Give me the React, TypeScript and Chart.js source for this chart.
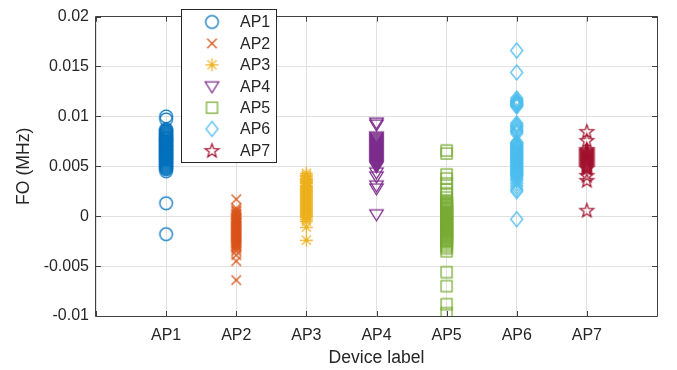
import React, { useEffect, useRef } from "react";
import { Chart, registerables } from "chart.js";

Chart.register(...registerables);

const categories = ["AP1", "AP2", "AP3", "AP4", "AP5", "AP6", "AP7"];
const yTickLabels = ["-0.01", "-0.005", "0", "0.005", "0.01", "0.015", "0.02"];

const ap1 = [0.0100, 0.0097, 0.0087, 0.0086, 0.0085, 0.0084, 0.0083, 0.0082, 0.0081, 0.0080, 0.0079, 0.0078, 0.0078, 0.0077, 0.0076, 0.0075, 0.0075, 0.0074, 0.0073, 0.0072, 0.0071, 0.0070, 0.0070, 0.0069, 0.0068, 0.0067, 0.0066, 0.0066, 0.0065, 0.0064, 0.0063, 0.0062, 0.0062, 0.0061, 0.0060, 0.0059, 0.0058, 0.0058, 0.0057, 0.0056, 0.0055, 0.0054, 0.0053, 0.0052, 0.0051, 0.0050, 0.0049, 0.0048, 0.0047, 0.0045, 0.0013, -0.0018];
const ap2 = [0.0017, 0.0008, 0.0006, 0.0005, 0.0003, 0.0002, 0.0001, -0.0001, -0.0002, -0.0003, -0.0004, -0.0005, -0.0006, -0.0007, -0.0008, -0.0009, -0.0010, -0.0011, -0.0012, -0.0013, -0.0014, -0.0015, -0.0016, -0.0017, -0.0018, -0.0019, -0.0020, -0.0021, -0.0022, -0.0023, -0.0024, -0.0025, -0.0026, -0.0027, -0.0028, -0.0029, -0.0030, -0.0031, -0.0033, -0.0035, -0.0039, -0.0045, -0.0064];
const ap3 = [0.0043, 0.0041, 0.0040, 0.0038, 0.0037, 0.0036, 0.0035, 0.0034, 0.0033, 0.0031, 0.0030, 0.0029, 0.0028, 0.0027, 0.0026, 0.0025, 0.0024, 0.0023, 0.0022, 0.0021, 0.0020, 0.0019, 0.0018, 0.0017, 0.0016, 0.0015, 0.0014, 0.0013, 0.0012, 0.0011, 0.0010, 0.0009, 0.0008, 0.0007, 0.0006, 0.0005, 0.0004, 0.0003, 0.0002, 0.0001, 0.0000, -0.0001, -0.0003, -0.0005, -0.0011, -0.0024];
const ap4 = [0.0094, 0.0092, 0.0080, 0.0079, 0.0078, 0.0077, 0.0076, 0.0075, 0.0074, 0.0073, 0.0072, 0.0071, 0.0070, 0.0069, 0.0068, 0.0067, 0.0066, 0.0065, 0.0064, 0.0063, 0.0062, 0.0061, 0.0060, 0.0059, 0.0058, 0.0057, 0.0056, 0.0055, 0.0054, 0.0053, 0.0052, 0.0051, 0.0050, 0.0044, 0.0040, 0.0031, 0.0028, 0.0002];
const ap5 = [0.0066, 0.0063, 0.0042, 0.0038, 0.0033, 0.0027, 0.0023, 0.0019, 0.0015, 0.0014, 0.0013, 0.0012, 0.0011, 0.0010, 0.0009, 0.0008, 0.0007, 0.0006, 0.0005, 0.0004, 0.0003, 0.0002, 0.0001, 0.0000, -0.0001, -0.0002, -0.0003, -0.0004, -0.0005, -0.0006, -0.0007, -0.0008, -0.0009, -0.0010, -0.0011, -0.0012, -0.0013, -0.0014, -0.0015, -0.0016, -0.0017, -0.0018, -0.0019, -0.0020, -0.0021, -0.0022, -0.0023, -0.0024, -0.0025, -0.0026, -0.0028, -0.0030, -0.0032, -0.0035, -0.0056, -0.0070, -0.0088, -0.0097];
const ap6 = [0.0166, 0.0144, 0.0118, 0.0116, 0.0115, 0.0114, 0.0113, 0.0112, 0.0111, 0.0110, 0.0093, 0.0091, 0.0090, 0.0088, 0.0086, 0.0085, 0.0083, 0.0074, 0.0073, 0.0072, 0.0071, 0.0070, 0.0069, 0.0068, 0.0067, 0.0066, 0.0065, 0.0064, 0.0063, 0.0062, 0.0061, 0.0060, 0.0059, 0.0058, 0.0057, 0.0056, 0.0055, 0.0054, 0.0053, 0.0052, 0.0051, 0.0050, 0.0049, 0.0048, 0.0047, 0.0046, 0.0045, 0.0044, 0.0043, 0.0042, 0.0041, 0.0040, 0.0038, 0.0036, 0.0033, 0.0030, 0.0027, 0.0025, -0.0003];
const ap7 = [0.0085, 0.0076, 0.0067, 0.0066, 0.0065, 0.0064, 0.0063, 0.0062, 0.0061, 0.0060, 0.0059, 0.0058, 0.0057, 0.0056, 0.0055, 0.0054, 0.0053, 0.0052, 0.0051, 0.0050, 0.0049, 0.0048, 0.0041, 0.0036, 0.0006];

const seriesValues = [ap1, ap2, ap3, ap4, ap5, ap6, ap7];
const seriesColors = ["#0072BD", "#D95319", "#EDB120", "#7E2F8E", "#77AC30", "#4DBEEE", "#A2142F"];
const seriesMarkers = ["circle", "x", "asterisk", "tridown", "square", "diamond", "pentagram"];

const FONT = "'Liberation Sans', Arial, Helvetica, sans-serif";
const TEXT = "#262626";

function makeMarker(kind: string, color: string): HTMLCanvasElement {
  const S = 19;
  const c = document.createElement("canvas");
  c.width = S;
  c.height = S;
  const g = c.getContext("2d")!;
  const m = S / 2;
  g.strokeStyle = color;
  g.lineWidth = 1.25;
  g.beginPath();
  if (kind === "circle") {
    g.arc(m, m, 6.3, 0, Math.PI * 2);
  } else if (kind === "x") {
    const d = 4.8;
    g.moveTo(m - d, m - d); g.lineTo(m + d, m + d);
    g.moveTo(m + d, m - d); g.lineTo(m - d, m + d);
  } else if (kind === "asterisk") {
    const d = 6.5, e = 4.6;
    g.moveTo(m - d, m); g.lineTo(m + d, m);
    g.moveTo(m, m - d); g.lineTo(m, m + d);
    g.moveTo(m - e, m - e); g.lineTo(m + e, m + e);
    g.moveTo(m + e, m - e); g.lineTo(m - e, m + e);
  } else if (kind === "tridown") {
    g.moveTo(m - 6.8, m - 4.5); g.lineTo(m + 6.8, m - 4.5); g.lineTo(m, m + 6.5); g.closePath();
  } else if (kind === "square") {
    g.rect(m - 5.5, m - 5.5, 11, 11);
  } else if (kind === "diamond") {
    g.moveTo(m, m - 7.5); g.lineTo(m + 6, m); g.lineTo(m, m + 7.5); g.lineTo(m - 6, m); g.closePath();
  } else if (kind === "pentagram") {
    const R = 7.2, r = 2.9;
    for (let i = 0; i < 10; i++) {
      const a = -Math.PI / 2 + (i * Math.PI) / 5;
      const rr = i % 2 === 0 ? R : r;
      const px = m + rr * Math.cos(a);
      const py = m + 0.6 + rr * Math.sin(a);
      if (i === 0) g.moveTo(px, py); else g.lineTo(px, py);
    }
    g.closePath();
  }
  g.stroke();
  return c;
}

export default function App() {
  const ref = useRef<HTMLCanvasElement | null>(null);

  useEffect(() => {
    const canvas = ref.current!;
    const markers = seriesValues.map((_, i) => makeMarker(seriesMarkers[i], seriesColors[i]));

    const datasets = seriesValues.map((vals, i) => ({
      label: categories[i],
      data: vals.map((v) => ({ x: i + 1, y: v })),
      pointStyle: markers[i] as any,
      pointRadius: 6,
      showLine: false,
    }));

    const boxPlugin = {
      id: "boxPlugin",
      afterDatasetsDraw(chart: any) {
        const { ctx, chartArea } = chart;
        const { left, right, top, bottom } = chartArea;
        const xs = chart.scales.x;
        const ys = chart.scales.y;
        ctx.save();
        ctx.strokeStyle = "#404040";
        ctx.lineWidth = 1;
        ctx.beginPath();
        ctx.rect(Math.round(left) - 0.5, Math.round(top) - 0.5, Math.round(right - left) + 1, Math.round(bottom - top) + 1);
        const tl = 5;
        for (let i = 0; i <= 8; i++) {
          const px = Math.round(xs.getPixelForValue(i)) + 0.5;
          ctx.moveTo(px, bottom); ctx.lineTo(px, bottom - tl);
          ctx.moveTo(px, top); ctx.lineTo(px, top + tl);
        }
        for (let k = 0; k < yTickLabels.length; k++) {
          const v = -0.01 + k * 0.005;
          const py = Math.round(ys.getPixelForValue(v)) + 0.5;
          ctx.moveTo(left, py); ctx.lineTo(left + tl, py);
          ctx.moveTo(right, py); ctx.lineTo(right - tl, py);
        }
        ctx.stroke();
        ctx.restore();
      },
      afterDraw(chart: any) {
        const { ctx } = chart;
        const bx = 181.5, by = 9.5, bw = 95, bh = 153;
        ctx.save();
        ctx.fillStyle = "#ffffff";
        ctx.fillRect(bx, by, bw, bh);
        ctx.strokeStyle = "#262626";
        ctx.lineWidth = 1;
        ctx.strokeRect(bx, by, bw, bh);
        ctx.font = `16px ${FONT}`;
        ctx.fillStyle = TEXT;
        ctx.textBaseline = "middle";
        ctx.textAlign = "left";
        for (let i = 0; i < categories.length; i++) {
          const cy = 22 + i * 21.4;
          const mk = markers[i];
          ctx.drawImage(mk, 212 - mk.width / 2, cy - mk.height / 2);
          ctx.fillText(categories[i], 240, cy + 1);
        }
        ctx.restore();
      },
    };

    const chart = new Chart(canvas, {
      type: "scatter",
      data: { datasets },
      options: {
        animation: false,
        responsive: false,
        maintainAspectRatio: false,
        layout: { padding: { top: 9, right: 20, bottom: 0, left: 0 } },
        plugins: { legend: { display: false }, tooltip: { enabled: false } },
        scales: {
          x: {
            type: "linear",
            min: 0,
            max: 8,
            afterFit: (s: any) => { s.height = 54; },
            afterBuildTicks: (s: any) => {
              s.ticks = [0, 1, 2, 3, 4, 5, 6, 7, 8].map((v) => ({ value: v }));
            },
            ticks: {
              autoSkip: false,
              maxRotation: 0,
              padding: 10,
              color: TEXT,
              font: { family: FONT, size: 16 },
              callback: (v: any) => categories[Number(v) - 1] ?? "",
            },
            grid: { color: "#e1e1e1", lineWidth: 1, drawTicks: false },
            border: { display: false },
            title: {
              display: true,
              text: "Device label",
              color: TEXT,
              font: { family: FONT, size: 17.6 },
              padding: { top: 0, bottom: 1 },
            },
          },
          y: {
            type: "linear",
            min: -0.01,
            max: 0.02,
            afterFit: (s: any) => { s.width = 96; },
            afterBuildTicks: (s: any) => {
              s.ticks = yTickLabels.map((_, k) => ({ value: -0.01 + k * 0.005 }));
            },
            ticks: {
              padding: 7,
              color: TEXT,
              font: { family: FONT, size: 16 },
              callback: (_v: any, index: number) => yTickLabels[index],
            },
            grid: { color: "#e1e1e1", lineWidth: 1, drawTicks: false },
            border: { display: false },
            title: {
              display: true,
              text: "FO (MHz)",
              color: TEXT,
              font: { family: FONT, size: 17.6 },
              padding: { top: 14, bottom: 0 },
            },
          },
        },
      },
      plugins: [boxPlugin],
    } as any);

    return () => chart.destroy();
  }, []);

  return (
    <div style={{ position: "absolute", left: 0, top: 0, width: 677, height: 370, background: "#fff" }}>
      <canvas ref={ref} width={677} height={370} style={{ display: "block", width: 677, height: 370 }} />
    </div>
  );
}
